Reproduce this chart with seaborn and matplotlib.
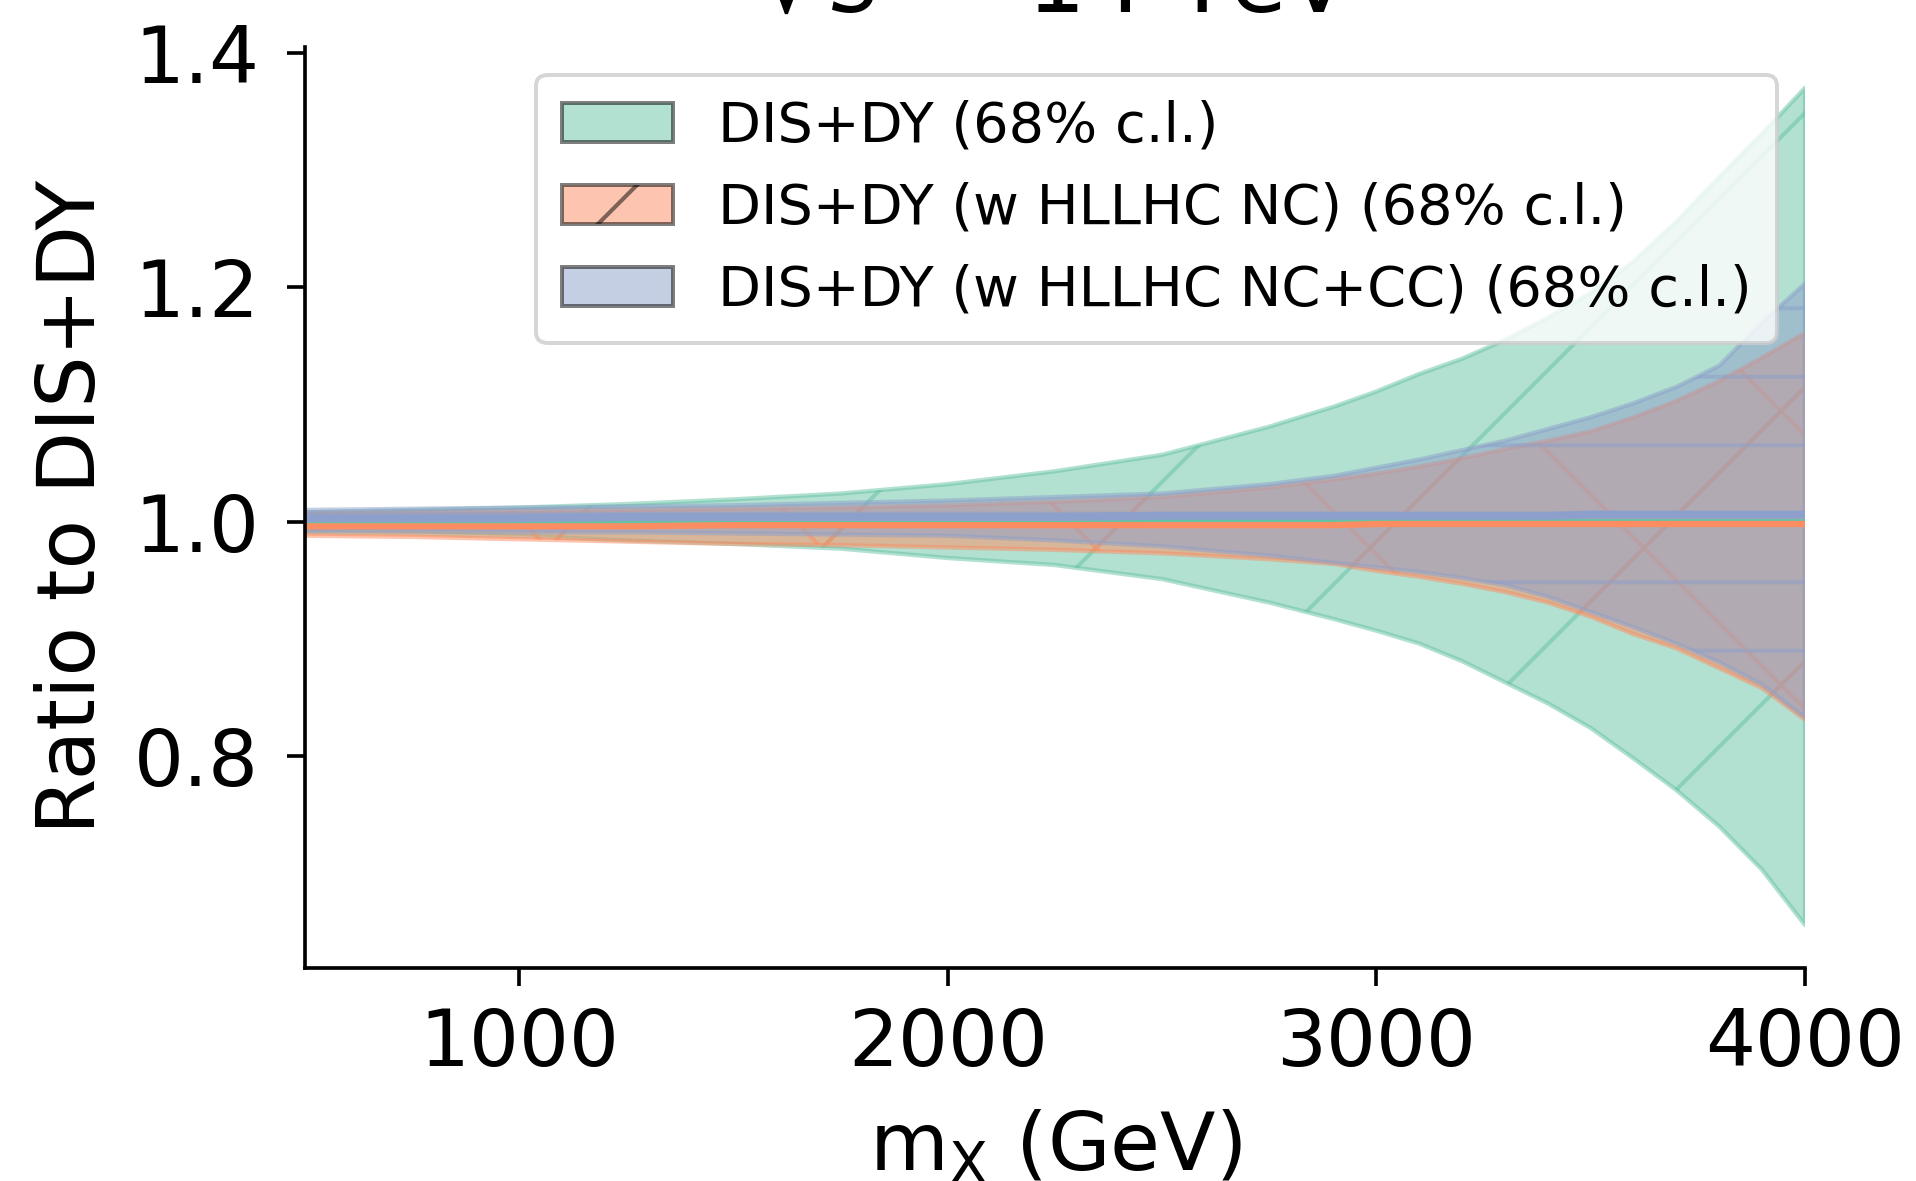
import matplotlib
matplotlib.use("Agg")
import matplotlib.pyplot as plt
from matplotlib.patches import Patch
import pandas as pd
import seaborn as sns

# ---------------- data ----------------
mass = [500, 750, 1000, 1250, 1500, 1750, 2000, 2250, 2500, 2750, 2900,
        3000, 3100, 3200, 3300, 3400, 3500, 3600, 3700, 3800, 3900, 4000]

green_up = [1.008, 1.010, 1.012, 1.015, 1.019, 1.024, 1.032, 1.043, 1.057,
            1.081, 1.098, 1.111, 1.126, 1.139, 1.155, 1.174, 1.195, 1.222,
            1.256, 1.294, 1.331, 1.370]
green_lo = [0.991, 0.990, 0.988, 0.984, 0.981, 0.977, 0.969, 0.963, 0.951,
            0.931, 0.917, 0.907, 0.896, 0.881, 0.863, 0.845, 0.824, 0.798,
            0.771, 0.740, 0.703, 0.656]
green_c = [1.0] * 22

orange_up = [1.007, 1.008, 1.009, 1.010, 1.011, 1.012, 1.014, 1.017, 1.021,
             1.029, 1.036, 1.041, 1.047, 1.054, 1.062, 1.069, 1.077, 1.089,
             1.103, 1.120, 1.140, 1.161]
orange_lo = [0.988, 0.987, 0.985, 0.983, 0.981, 0.980, 0.978, 0.976, 0.973,
             0.968, 0.964, 0.958, 0.953, 0.947, 0.940, 0.931, 0.919, 0.904,
             0.892, 0.875, 0.858, 0.831]
orange_c = [0.996, 0.996, 0.996, 0.996, 0.997, 0.997, 0.997, 0.997, 0.997,
            0.997, 0.997, 0.998, 0.998, 0.998, 0.998, 0.998, 0.998, 0.998,
            0.998, 0.998, 0.998, 0.998]

blue_up = [1.010, 1.011, 1.012, 1.013, 1.014, 1.016, 1.018, 1.021, 1.024,
           1.032, 1.039, 1.046, 1.053, 1.061, 1.069, 1.079, 1.089, 1.101,
           1.115, 1.133, 1.170, 1.203]
blue_lo = [0.992, 0.992, 0.991, 0.991, 0.990, 0.989, 0.988, 0.984, 0.979,
           0.971, 0.965, 0.961, 0.957, 0.952, 0.946, 0.936, 0.923, 0.910,
           0.896, 0.880, 0.861, 0.833]
blue_c = [1.003, 1.003, 1.003, 1.004, 1.004, 1.004, 1.004, 1.004, 1.005,
          1.005, 1.005, 1.005, 1.005, 1.005, 1.005, 1.005, 1.006, 1.006,
          1.006, 1.006, 1.006, 1.006]

labels = ["DIS+DY (68% c.l.)",
          "DIS+DY (w HLLHC NC) (68% c.l.)",
          "DIS+DY (w HLLHC NC+CC) (68% c.l.)"]
hatches = ["/", "x", "--"]
x_ticks = [1000, 2000, 3000, 4000]
y_ticks = [0.8, 1.0, 1.2, 1.4]
title = r"$\sqrt{s}$ = 14 TeV"
xlabel = r"m$_\mathrm{X}$ (GeV)"
ylabel = "Ratio to DIS+DY"

# ---------------- style ----------------
DPI = 822
sns.set_theme(style="ticks")
plt.rcParams.update({
    "font.family": ["DejaVu Sans"],
    "text.color": "black",
    "axes.labelcolor": "black",
    "axes.edgecolor": "black",
    "xtick.color": "black",
    "ytick.color": "black",
    "hatch.linewidth": 0.36,
    "axes.linewidth": 0.32,
    "xtick.major.width": 0.32,
    "ytick.major.width": 0.32,
    "xtick.major.size": 1.6,
    "ytick.major.size": 1.6,
    "xtick.major.pad": 1.8,
    "ytick.major.pad": 2.4,
    "xtick.labelsize": 6.9,
    "ytick.labelsize": 6.9,
    "axes.labelsize": 7.1,
    "axes.titlesize": 8.1,
    "legend.fontsize": 4.9,
})
palette = sns.color_palette("Set2", 3)

fig = plt.figure(figsize=(1916 / DPI, 1181 / DPI), dpi=DPI)
ax = fig.add_axes([0.1592, 0.1807, 0.9421 - 0.1592, 0.9605 - 0.1807])

bands = [(green_lo, green_up), (orange_lo, orange_up), (blue_lo, blue_up)]
for (lo, up), col, h in zip(bands, palette, hatches):
    ax.fill_between(mass, lo, up, facecolor=col, edgecolor=col, alpha=0.5,
                    hatch=h, linewidth=0.38)

df = pd.DataFrame({"mass": mass, "green": green_c, "orange": orange_c,
                   "blue": blue_c})
sns.lineplot(data=df, x="mass", y="green", color=palette[0], linewidth=0.6,
             estimator=None, ax=ax)
sns.lineplot(data=df, x="mass", y="blue", color=palette[2], linewidth=0.7,
             estimator=None, ax=ax)
sns.lineplot(data=df, x="mass", y="orange", color=palette[1], linewidth=0.55,
             estimator=None, ax=ax)

ax.set_xlim(500, 4000)
ax.set_ylim(0.6197, 1.4051)
ax.set_xticks(x_ticks)
ax.set_yticks(y_ticks)
ax.set_xlabel(xlabel, labelpad=2.4)
ax.set_ylabel(ylabel, labelpad=2.0)
ax.set_title(title, pad=3.07)
sns.despine(ax=ax)

handles = [Patch(facecolor=c, edgecolor="black", alpha=0.5, hatch=h,
                 linewidth=0.35) for c, h in zip(palette, hatches)]
leg = ax.legend(handles, labels, loc="upper right", frameon=True,
                fancybox=True, framealpha=0.8, edgecolor="0.8",
                borderpad=0.45)
leg.get_frame().set_linewidth(0.35)

fig.savefig("out.png", dpi=DPI)
